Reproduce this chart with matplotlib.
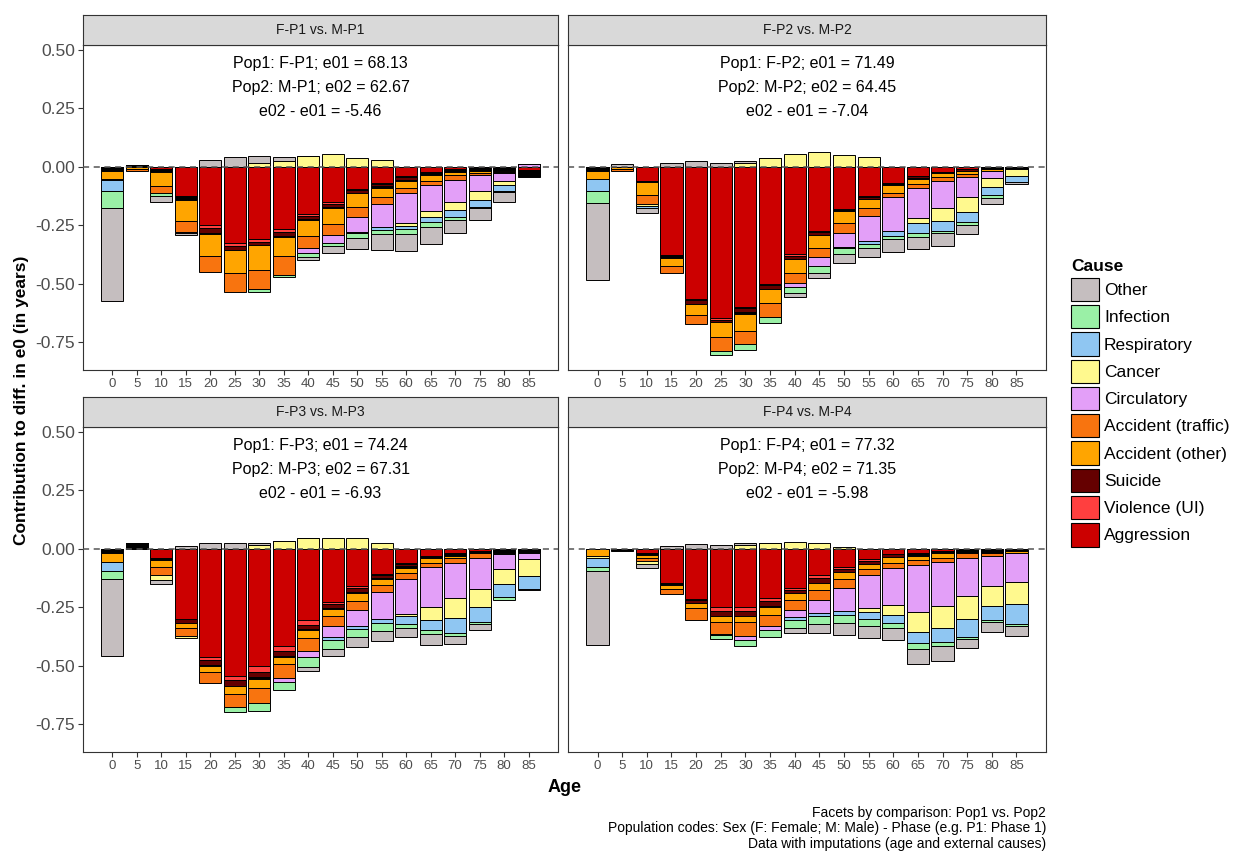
import numpy as np
import matplotlib
matplotlib.use("Agg")
import matplotlib.pyplot as plt
from matplotlib.patches import Patch

plt.rcParams['font.family'] = ['Liberation Sans', 'DejaVu Sans']

# =============================================================================
# DATA
# =============================================================================

ages = [0, 5, 10, 15, 20, 25, 30, 35, 40, 45, 50, 55, 60, 65, 70, 75, 80, 85]

# legend order (top -> bottom); "Undetermined" is drawn in black but not listed
causes = ["Other", "Infection", "Respiratory", "Cancer", "Circulatory",
          "Accident (traffic)", "Accident (other)", "Suicide", "Violence (UI)",
          "Aggression"]
cause_colors = {
    "Other": "#C5BEBF",
    "Infection": "#9AF0A6",
    "Respiratory": "#8FC6F2",
    "Cancer": "#FFF98E",
    "Circulatory": "#E39FF8",
    "Accident (traffic)": "#F8740F",
    "Accident (other)": "#FFA500",
    "Suicide": "#650000",
    "Violence (UI)": "#FF3F3F",
    "Aggression": "#CC0000",
    "Undetermined": "#000000",
}
# stacking order, from zero outwards
stack_order = ["Aggression", "Violence (UI)", "Suicide", "Undetermined",
               "Accident (other)", "Accident (traffic)", "Circulatory",
               "Cancer", "Respiratory", "Infection", "Other"]

facet_titles = ["F-P1 vs. M-P1", "F-P2 vs. M-P2", "F-P3 vs. M-P3", "F-P4 vs. M-P4"]
facet_labels = [
    "Pop1: F-P1; e01 = 68.13\nPop2: M-P1; e02 = 62.67\ne02 - e01 = -5.46",
    "Pop1: F-P2; e01 = 71.49\nPop2: M-P2; e02 = 64.45\ne02 - e01 = -7.04",
    "Pop1: F-P3; e01 = 74.24\nPop2: M-P3; e02 = 67.31\ne02 - e01 = -6.93",
    "Pop1: F-P4; e01 = 77.32\nPop2: M-P4; e02 = 71.35\ne02 - e01 = -5.98",
]

p1 = {
    "Aggression":         [-0.004, 0, -0.011, -0.124, -0.249, -0.325, -0.309, -0.264, -0.202, -0.150, -0.097, -0.071, -0.040, -0.021, -0.011, -0.004, -0.004, -0.012],
    "Violence (UI)":      [0, 0, 0, 0, -0.014, -0.014, -0.011, -0.014, -0.007, -0.008, -0.004, -0.004, -0.003, -0.002, -0.002, 0, 0, 0],
    "Suicide":            [0, 0, -0.003, -0.007, -0.021, -0.017, -0.014, -0.019, -0.014, -0.012, -0.010, -0.008, -0.012, -0.005, -0.004, -0.004, -0.006, 0],
    "Undetermined":       [-0.014, 0.006, -0.007, -0.011, -0.004, 0, -0.002, -0.002, -0.004, -0.005, -0.003, -0.006, -0.005, -0.008, -0.006, -0.008, -0.010, -0.032],
    "Accident (other)":   [-0.033, -0.010, -0.060, -0.088, -0.093, -0.097, -0.104, -0.084, -0.068, -0.068, -0.060, -0.040, -0.031, -0.026, -0.014, -0.010, -0.003, 0],
    "Accident (traffic)": [-0.007, -0.010, -0.033, -0.047, -0.067, -0.081, -0.084, -0.078, -0.054, -0.050, -0.040, -0.031, -0.023, -0.014, -0.019, -0.011, -0.003, 0],
    "Circulatory":        [0, 0, 0, -0.008, 0, 0, 0, 0, -0.020, -0.031, -0.064, -0.097, -0.128, -0.114, -0.093, -0.067, -0.033, 0.012],
    "Cancer":             [0, 0, 0, 0, 0, 0, 0.017, 0.026, 0.046, 0.054, 0.036, 0.028, -0.010, -0.024, -0.037, -0.040, -0.019, 0],
    "Respiratory":        [-0.045, 0, 0, 0, 0, 0, 0, 0, 0, -0.003, -0.003, -0.014, -0.014, -0.021, -0.028, -0.026, -0.024, 0],
    "Infection":          [-0.075, 0, -0.011, 0, 0, 0, -0.010, -0.009, -0.018, -0.011, -0.023, -0.017, -0.021, -0.023, -0.014, -0.006, -0.004, 0],
    "Other":              [-0.397, 0, -0.026, -0.008, 0.028, 0.043, 0.028, 0.017, -0.010, -0.031, -0.046, -0.068, -0.074, -0.071, -0.053, -0.050, -0.043, 0],
}

p2 = {
    "Aggression":         [-0.003, 0, -0.060, -0.377, -0.563, -0.648, -0.598, -0.499, -0.373, -0.274, -0.181, -0.125, -0.071, -0.040, -0.021, -0.011, -0.003, -0.003],
    "Violence (UI)":      [0, 0, 0, 0, -0.005, -0.007, -0.007, -0.007, -0.007, -0.006, -0.003, -0.003, 0, 0, 0, 0, 0, 0],
    "Suicide":            [0, 0, -0.003, -0.005, -0.016, -0.007, -0.014, -0.014, -0.014, -0.013, -0.007, -0.010, -0.004, -0.006, -0.003, -0.008, 0, 0],
    "Undetermined":       [-0.014, 0, -0.004, -0.006, 0, 0, -0.010, -0.003, 0, 0, 0, 0, -0.004, -0.005, -0.004, 0, -0.006, -0.008],
    "Accident (other)":   [-0.035, -0.008, -0.054, -0.034, -0.050, -0.064, -0.071, -0.060, -0.061, -0.053, -0.051, -0.040, -0.031, -0.024, -0.017, -0.012, -0.010, 0],
    "Accident (traffic)": [0, -0.008, -0.038, -0.030, -0.038, -0.060, -0.057, -0.057, -0.043, -0.040, -0.041, -0.031, -0.021, -0.017, -0.016, -0.012, 0, 0],
    "Circulatory":        [0, 0, 0, 0, 0, 0, 0, 0, -0.014, -0.036, -0.058, -0.107, -0.142, -0.128, -0.117, -0.085, -0.027, 0],
    "Cancer":             [0, 0, -0.007, 0, 0, 0, 0.014, 0.036, 0.054, 0.061, 0.050, 0.040, 0, -0.021, -0.053, -0.064, -0.040, -0.028],
    "Respiratory":        [-0.051, 0, -0.011, 0, 0, 0, 0, 0, -0.003, -0.003, -0.007, -0.014, -0.021, -0.043, -0.043, -0.046, -0.036, -0.024],
    "Infection":          [-0.050, 0, 0, 0, 0, -0.019, -0.026, -0.026, -0.023, -0.028, -0.024, -0.017, -0.016, -0.014, -0.011, -0.011, -0.010, 0],
    "Other":              [-0.330, 0.012, -0.021, 0.014, 0.026, 0.014, 0.010, 0, -0.017, -0.024, -0.038, -0.040, -0.053, -0.054, -0.054, -0.038, -0.026, -0.011],
}

p3 = {
    "Aggression":         [-0.003, 0, -0.040, -0.299, -0.461, -0.543, -0.501, -0.414, -0.306, -0.227, -0.159, -0.106, -0.059, -0.030, -0.019, -0.008, 0, 0],
    "Violence (UI)":      [0, 0, 0, 0, -0.014, -0.019, -0.024, -0.023, -0.019, -0.011, -0.010, -0.007, -0.004, 0, 0, 0, 0, 0],
    "Suicide":            [0, 0, 0, -0.016, -0.022, -0.026, -0.022, -0.020, -0.017, -0.017, -0.016, -0.013, -0.012, -0.005, -0.005, 0, 0, 0],
    "Undetermined":       [-0.017, 0.023, -0.007, 0, -0.004, 0, -0.010, -0.007, -0.007, -0.004, -0.004, -0.004, -0.008, -0.005, -0.006, -0.011, -0.016, -0.016],
    "Accident (other)":   [-0.035, -0.003, -0.033, -0.024, -0.024, -0.032, -0.036, -0.029, -0.033, -0.030, -0.032, -0.026, -0.022, -0.019, -0.010, 0, 0, 0],
    "Accident (traffic)": [0, 0, -0.033, -0.032, -0.050, -0.057, -0.065, -0.059, -0.055, -0.043, -0.039, -0.029, -0.024, -0.021, -0.019, -0.020, -0.007, 0],
    "Circulatory":        [0, 0, 0, 0, 0, 0, 0, -0.017, -0.024, -0.046, -0.069, -0.115, -0.148, -0.168, -0.151, -0.131, -0.062, -0.029],
    "Cancer":             [0, 0, -0.019, -0.011, 0, 0, 0.017, 0.034, 0.046, 0.046, 0.046, 0.026, -0.011, -0.055, -0.086, -0.079, -0.065, -0.072],
    "Respiratory":        [-0.040, 0, 0, 0, 0, 0, 0, 0, 0, -0.010, -0.014, -0.019, -0.032, -0.046, -0.065, -0.063, -0.057, -0.055],
    "Infection":          [-0.033, 0, 0, 0, 0, -0.020, -0.037, -0.036, -0.043, -0.040, -0.032, -0.032, -0.019, -0.014, -0.010, -0.011, -0.010, 0],
    "Other":              [-0.329, 0, -0.017, 0.011, 0.023, 0.023, 0.009, 0, -0.017, -0.029, -0.045, -0.043, -0.039, -0.046, -0.036, -0.022, 0, -0.006],
}

p4 = {
    "Aggression":         [0, 0, -0.019, -0.145, -0.213, -0.250, -0.250, -0.210, -0.167, -0.114, -0.076, -0.045, -0.023, -0.019, -0.009, 0, 0, 0],
    "Violence (UI)":      [0, 0, 0, 0, -0.007, -0.014, -0.014, -0.014, -0.007, -0.013, -0.011, -0.007, 0, 0, 0, 0, 0, 0],
    "Suicide":            [0, 0, 0, 0, -0.012, -0.022, -0.024, -0.022, -0.017, -0.019, -0.014, -0.012, -0.014, 0, 0, 0, 0, 0],
    "Undetermined":       [0, -0.009, -0.007, -0.010, 0, 0, 0, -0.003, 0, 0, 0, 0, 0, -0.011, -0.010, -0.019, -0.016, -0.010],
    "Accident (other)":   [-0.030, 0, -0.014, -0.016, -0.022, -0.027, -0.026, -0.032, -0.029, -0.032, -0.029, -0.024, -0.022, -0.019, -0.019, 0, 0, -0.010],
    "Accident (traffic)": [0, 0, -0.011, -0.024, -0.050, -0.052, -0.060, -0.047, -0.043, -0.040, -0.036, -0.026, -0.022, -0.022, -0.017, -0.022, -0.014, 0],
    "Circulatory":        [0, 0, 0, 0, 0, 0, -0.014, -0.017, -0.029, -0.057, -0.100, -0.139, -0.158, -0.200, -0.191, -0.160, -0.129, -0.122],
    "Cancer":             [-0.010, 0, -0.014, 0, 0, 0, 0.014, 0.026, 0.029, 0.023, 0.009, -0.017, -0.043, -0.086, -0.091, -0.100, -0.086, -0.095],
    "Respiratory":        [-0.036, 0, 0, 0, 0, -0.005, -0.003, 0, -0.011, -0.011, -0.019, -0.029, -0.033, -0.047, -0.063, -0.075, -0.060, -0.086],
    "Infection":          [-0.017, 0, 0, 0, 0, -0.014, -0.024, -0.032, -0.036, -0.036, -0.034, -0.030, -0.022, -0.022, -0.016, -0.010, -0.009, -0.006],
    "Other":              [-0.318, 0, -0.017, 0.011, 0.020, 0.014, 0.011, 0, -0.019, -0.039, -0.050, -0.053, -0.053, -0.065, -0.065, -0.036, -0.042, -0.043],
}

panels = [p1, p2, p3, p4]

yticks = [-0.75, -0.50, -0.25, 0.00, 0.25, 0.50]

# =============================================================================
# PLOTTING
# =============================================================================

W, H = 1236, 852
fig = plt.figure(figsize=(W / 100, H / 100), dpi=100)

# panel boxes in pixels: (left, right) and (strip top, plot top, plot bottom, ylim)
cols = [(83, 558), (568, 1046)]
rows = [(15, 45, 370, (-0.868, 0.52)), (397, 427, 752, (-0.868, 0.52))]

axis_gray = "#4D4D4D"

for k, data in enumerate(panels):
    r, c = divmod(k, 2)
    x0, x1 = cols[c]
    s_top, p_top, p_bot, ylim = rows[r]

    ax = fig.add_axes([x0 / W, 1 - p_bot / H, (x1 - x0) / W, (p_bot - p_top) / H])
    sax = fig.add_axes([x0 / W, 1 - p_top / H, (x1 - x0) / W, (p_top - s_top) / H])

    # strip
    sax.set_facecolor("#D9D9D9")
    sax.set_xticks([])
    sax.set_yticks([])
    for sp in sax.spines.values():
        sp.set_color("#333333")
        sp.set_linewidth(0.8)
    sax.text(0.5, 0.5, facet_titles[k], ha="center", va="center", fontsize=10,
             color="#1A1A1A", transform=sax.transAxes)

    # stacked bars, negatives stacked downward, positives upward
    pos_base = np.zeros(len(ages))
    neg_base = np.zeros(len(ages))
    for cause in stack_order:
        vals = np.array(data[cause], dtype=float)
        bottoms = np.where(vals >= 0, pos_base, neg_base)
        ax.bar(ages, vals, width=4.5, bottom=bottoms, color=cause_colors[cause],
               edgecolor="#000000", linewidth=0.7, zorder=2)
        pos_base = pos_base + np.where(vals > 0, vals, 0)
        neg_base = neg_base + np.where(vals < 0, vals, 0)

    ax.axhline(0, color="#555555", linestyle=(0, (4, 3)), linewidth=1.1, zorder=3)

    ax.text(42.5, 0.472, facet_labels[k], ha="center", va="top", fontsize=11.5,
            linespacing=1.75, color="#000000")

    ax.set_xlim(-6.0, 91.0)
    ax.set_ylim(*ylim)
    ax.set_xticks(ages)
    ax.set_xticklabels([str(a) for a in ages], fontsize=9.5, color=axis_gray)
    ax.tick_params(axis="x", length=3.5, color="#333333", pad=2)
    if c == 0:
        ax.set_yticks(yticks)
        ax.set_yticklabels(["%.2f" % v for v in yticks], fontsize=12.5, color=axis_gray)
        ax.tick_params(axis="y", length=3.5, color="#333333", pad=2)
    else:
        ax.set_yticks([])
    for sp in ax.spines.values():
        sp.set_color("#333333")
        sp.set_linewidth(0.8)

# axis titles
fig.text(0.5 * (83 + 1046) / W, 1 - 787 / H, "Age", ha="center", va="center",
         fontsize=13, fontweight="bold")
fig.text(22 / W, 1 - 400 / H, "Contribution to diff. in e0 (in years)", ha="center",
         va="center", rotation=90, fontsize=12.5, fontweight="bold")

# caption
fig.text(1046 / W, 1 - 851 / H,
         "Facets by comparison: Pop1 vs. Pop2\n"
         "Population codes: Sex (F: Female; M: Male) - Phase (e.g. P1: Phase 1)\n"
         "Data with imputations (age and external causes)",
         ha="right", va="bottom", fontsize=10, linespacing=1.15)

# legend
handles = [Patch(facecolor=cause_colors[cs], edgecolor="#000000", linewidth=0.8, label=cs)
           for cs in causes]
leg = fig.legend(handles=handles, title="Cause", loc="upper left",
                 bbox_to_anchor=(1064 / W, 1 - 252 / H), frameon=False,
                 fontsize=12.5, title_fontproperties={"weight": "bold", "size": 12.5},
                 handlelength=1.6, handleheight=1.7, handletextpad=0.3,
                 labelspacing=0.22, borderaxespad=0)
leg._legend_box.align = "left"

fig.savefig("out.png", dpi=100)
